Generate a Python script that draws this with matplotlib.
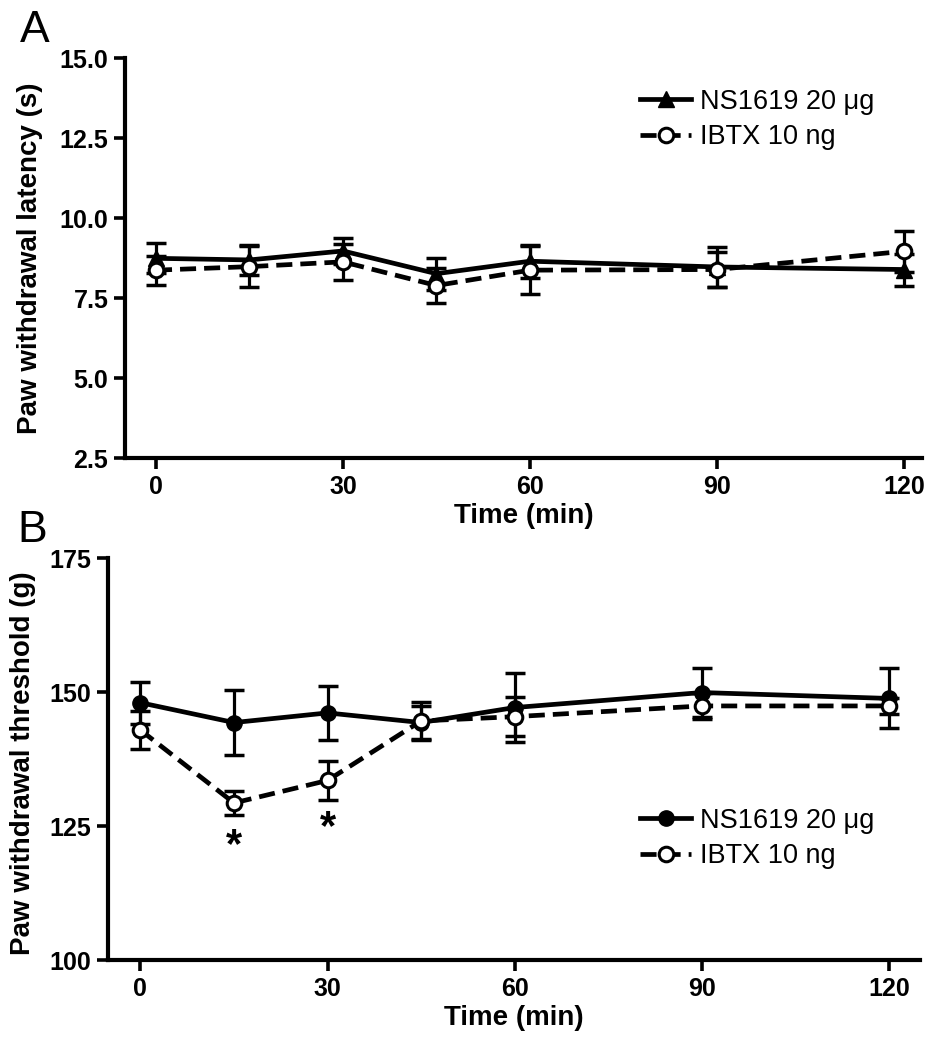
import matplotlib
matplotlib.use("Agg")
import matplotlib.pyplot as plt

plt.rcParams["font.family"] = ["Liberation Sans", "DejaVu Sans"]

# --- data ---
time_min = [0, 15, 30, 45, 60, 90, 120]

# panel A: paw withdrawal latency (s)
a_ns = [8.74, 8.69, 8.97, 8.26, 8.65, 8.47, 8.39]
a_ns_sem = [0.47, 0.48, 0.40, 0.50, 0.52, 0.62, 0.50]
a_ibtx = [8.37, 8.48, 8.63, 7.89, 8.37, 8.39, 8.96]
a_ibtx_sem = [0.45, 0.65, 0.57, 0.54, 0.75, 0.55, 0.64]

# panel B: paw withdrawal threshold (g)
b_ns = [148.0, 144.3, 146.1, 144.3, 147.1, 149.9, 148.8]
b_ns_sem = [3.9, 6.0, 5.0, 3.0, 6.4, 4.5, 5.6]
b_ibtx = [142.9, 129.3, 133.5, 144.6, 145.4, 147.4, 147.4]
b_ibtx_sem = [3.6, 2.3, 3.7, 3.5, 3.7, 2.5, 1.5]

star_t = [15, 30]
star_y = [121.2, 124.7]

xticks = [0, 30, 60, 90, 120]
a_yticks = [2.5, 5.0, 7.5, 10.0, 12.5, 15.0]
b_yticks = [100, 125, 150, 175]

LW = 3.4
DASH = (3.4, 1.7)

fig = plt.figure(figsize=(9.41, 10.5), dpi=100)
W, H = 941, 1050


def px_axes(left, top, right, bottom):
    return fig.add_axes([left / W, 1 - bottom / H, (right - left) / W, (bottom - top) / H])


ax_a = px_axes(125, 58, 922, 458)
ax_b = px_axes(108, 558, 920, 960)


def draw(ax, ns, ns_sem, ib, ib_sem, ns_marker):
    ax.errorbar(time_min, ns, yerr=ns_sem, fmt="none", ecolor="black",
                elinewidth=2.3, capsize=7, capthick=2.5, zorder=2)
    ax.errorbar(time_min, ib, yerr=ib_sem, fmt="none", ecolor="black",
                elinewidth=2.3, capsize=7, capthick=2.5, zorder=2)
    l1, = ax.plot(time_min, ns, color="black", lw=LW, marker=ns_marker,
                  ms=11, mfc="black", mec="black", zorder=3,
                  label="NS1619 20 \u03bcg")
    l2, = ax.plot(time_min, ib, color="black", lw=LW, dashes=DASH,
                  marker="o", ms=10.5, mfc="white", mec="black", mew=2.2,
                  zorder=4, label="IBTX 10 ng")
    return l1, l2


def style(ax):
    for s in ("top", "right"):
        ax.spines[s].set_visible(False)
    for s in ("left", "bottom"):
        ax.spines[s].set_linewidth(3)
    ax.tick_params(width=2.6, length=8, labelsize=18, pad=4)
    for lab in ax.get_xticklabels() + ax.get_yticklabels():
        lab.set_fontweight("bold")
    ax.set_xticks(xticks)
    ax.set_xlabel("Time (min)", fontsize=20, fontweight="bold", labelpad=3)


def legend(ax, handles, ycenter):
    ax.legend(handles=handles, loc="center left",
              bbox_to_anchor=(640 / W, 1 - ycenter / H),
              bbox_transform=fig.transFigure, frameon=False, fontsize=19.5,
              handlelength=1.9, handletextpad=0.3, labelspacing=0.35,
              borderpad=0, borderaxespad=0)


# panel A
h = draw(ax_a, a_ns, a_ns_sem, a_ibtx, a_ibtx_sem, "^")
ax_a.set_xlim(-4.97, 122.9)
ax_a.set_ylim(2.5, 15.0)
ax_a.set_yticks(a_yticks)
ax_a.set_yticklabels([f"{v:.1f}" for v in a_yticks])
style(ax_a)
ax_a.set_ylabel("Paw withdrawal latency (s)", fontsize=20, fontweight="bold")
ax_a.yaxis.set_label_coords(-0.103, 0.5)
legend(ax_a, h, 119.5)

# panel B
h = draw(ax_b, b_ns, b_ns_sem, b_ibtx, b_ibtx_sem, "o")
ax_b.set_xlim(-5.2, 125)
ax_b.set_ylim(100, 175)
ax_b.set_yticks(b_yticks)
style(ax_b)
ax_b.set_ylabel("Paw withdrawal threshold (g)", fontsize=20, fontweight="bold")
ax_b.yaxis.set_label_coords(-0.089, 0.49)
legend(ax_b, h, 838.5)
for t, y in zip(star_t, star_y):
    ax_b.text(t, y, "*", ha="center", va="center", fontsize=30, fontweight="bold")

# panel letters
fig.text(20 / W, 1 - 10 / H, "A", fontsize=32, va="top", ha="left")
fig.text(17 / W, 1 - 510 / H, "B", fontsize=32, va="top", ha="left")

fig.savefig("out.png", dpi=100, facecolor="white")
